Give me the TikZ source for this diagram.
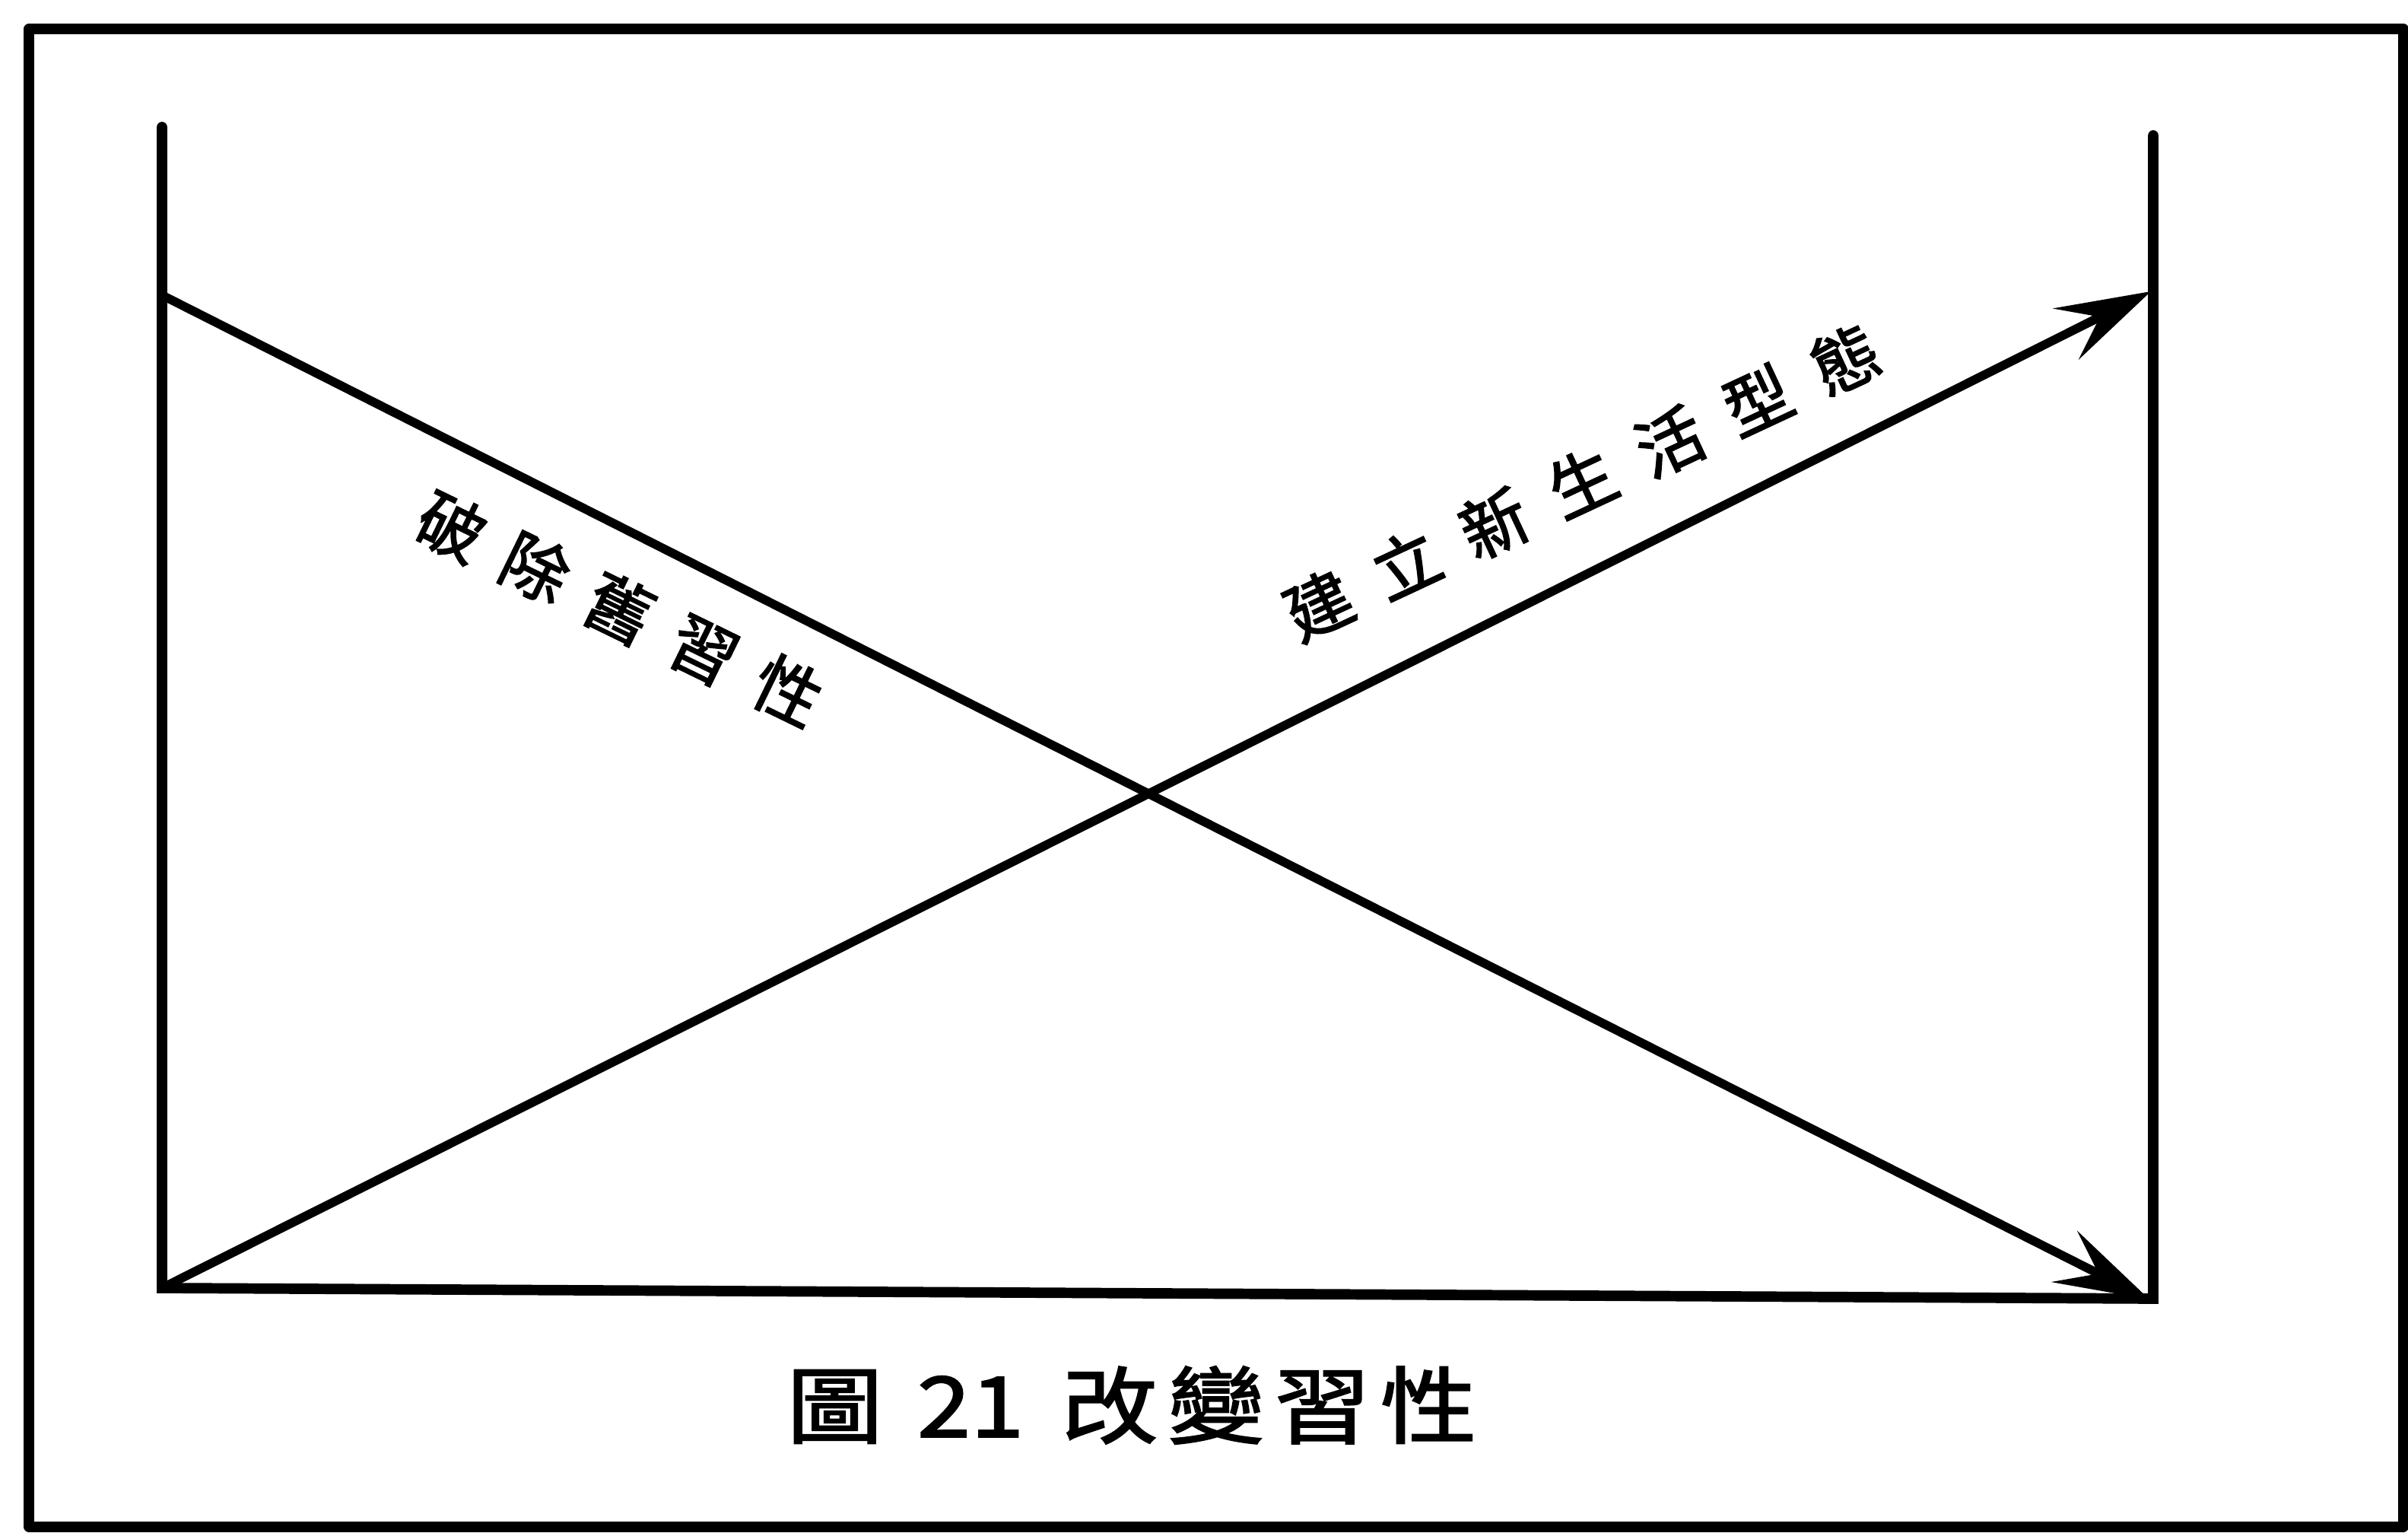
\documentclass[tikz,border=0pt]{standalone}
\usepackage{fontspec}
\newfontfamily\cjklab[FakeBold=2]{Noto Sans CJK TC}
\newfontfamily\cjkcap[FakeStretch=1.15, FakeBold=2]{Noto Sans CJK TC}
\usetikzlibrary{arrows.meta}
\tikzset{
  frameline/.style={line width=3.8pt, line cap=round, line join=round},
  axisline/.style={line width=3.9pt, line cap=round},
  diagline/.style={line width=3.3pt, -{Stealth[length=1.25cm, width=0.75cm, inset=0.5cm]}},
  slantlabel/.style={font=\cjklab\fontsize{25}{25}\selectfont, inner sep=0pt},
  captionlabel/.style={font=\cjkcap\fontsize{31.3}{31.3}\selectfont, inner sep=0pt}
}
\begin{document}
\begin{tikzpicture}
\useasboundingbox (0,0) rectangle (31.66,20.14);
% outer frame
\draw[frameline] (0.38,0.07) rectangle (31.60,19.76);
% axis corners
\coordinate (LT) at (2.13,18.47);
\coordinate (LB) at (2.13,3.21);
\coordinate (LU) at (2.13,16.26);
\coordinate (RT) at (28.31,18.36);
\coordinate (RB) at (28.31,3.07);
\coordinate (RU) at (28.28,16.31);
\coordinate (RD) at (28.26,3.06);
\draw[axisline] (LT) -- (LB) -- (RB) -- (RT);
% diagonals
\draw[diagline] (LU) -- (RD);
\draw[diagline] (LB) -- (RU);
% labels
\node[slantlabel, rotate=-26] (old) at (8.15,12.14)
  {破\hspace{0.4em}除\hspace{0.4em}舊\hspace{0.4em}習\hspace{0.4em}性};
\node[slantlabel, rotate=25] (new) at (20.80,13.80)
  {建\hspace{0.45em}立\hspace{0.45em}新\hspace{0.45em}生\hspace{0.45em}活\hspace{0.45em}型\hspace{0.45em}態};
\node[captionlabel] (cap) at (14.88,1.67)
  {圖\hspace{0.41em}21\hspace{0.45em}改\hspace{0.12em}變\hspace{0.12em}習\hspace{0.12em}性};
\end{tikzpicture}
\end{document}
